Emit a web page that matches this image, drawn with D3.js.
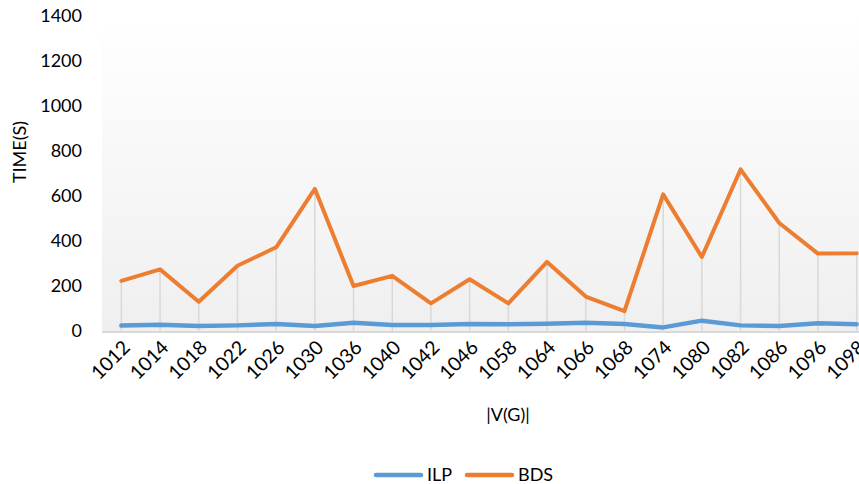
<!DOCTYPE html>
<html>
<head>
<meta charset="utf-8">
<script src="https://cdn.jsdelivr.net/npm/d3@7"></script>
<style>
  html, body { margin: 0; padding: 0; background: #fff; }
  svg { display: block; font-family: Lato, "Open Sans", sans-serif; }
</style>
</head>
<body>
<div id="chart"></div>
<script>
const categories = ['1012','1014','1018','1022','1026','1030','1036','1040','1042','1046',
                    '1058','1064','1066','1068','1074','1080','1082','1086','1096','1098'];
const ilpValues  = [24, 28, 22, 25, 31, 22, 37, 27, 27, 31, 30, 32, 37, 31, 16, 46, 25, 22, 34, 30];
const bdsValues  = [223, 274, 130, 290, 372, 632, 200, 245, 123, 230, 123, 307, 153, 88, 607, 329, 718, 480, 344, 345];
const yTicks     = [0, 200, 400, 600, 800, 1000, 1200, 1400];

const ILP_COLOR = '#5b9bd5';
const BDS_COLOR = '#ed7d31';
const DROP_COLOR = '#d9d9d9';

const width = 859, height = 484;
const plot = { left: 102, right: 876, top: 16, bottom: 331 };

const svg = d3.select('#chart').append('svg')
  .attr('width', width).attr('height', height);

// plot background gradient (white -> light grey)
const grad = svg.append('defs').append('linearGradient')
  .attr('id', 'bg').attr('x1', 0).attr('y1', 0).attr('x2', 0).attr('y2', 1);
grad.append('stop').attr('offset', '0%').attr('stop-color', '#ffffff');
grad.append('stop').attr('offset', '100%').attr('stop-color', '#efefef');

svg.append('rect')
  .attr('x', plot.left).attr('y', plot.top)
  .attr('width', plot.right - plot.left).attr('height', plot.bottom - plot.top)
  .attr('fill', 'url(#bg)');

const x = d3.scaleBand().domain(categories).range([plot.left, plot.right]);
const cx = d => x(d) + x.bandwidth() / 2;
const y = d3.scaleLinear().domain([0, 1400]).range([plot.bottom, plot.top]);

// drop lines from the highest point down to the axis
svg.append('g').selectAll('line')
  .data(categories)
  .join('line')
  .attr('x1', cx).attr('x2', cx)
  .attr('y1', (d, i) => y(Math.max(ilpValues[i], bdsValues[i])))
  .attr('y2', y(0))
  .attr('stroke', DROP_COLOR)
  .attr('stroke-width', 1.5);

// x baseline
svg.append('line')
  .attr('x1', plot.left).attr('x2', plot.right)
  .attr('y1', y(0) + 1).attr('y2', y(0) + 1)
  .attr('stroke', DROP_COLOR).attr('stroke-width', 2);

// y axis labels
svg.append('g').selectAll('text')
  .data(yTicks)
  .join('text')
  .attr('x', 82)
  .attr('y', d => y(d))
  .attr('dy', '0.35em')
  .attr('text-anchor', 'end')
  .attr('font-size', '18px')
  .attr('fill', '#000')
  .text(d => d);

// x axis labels, rotated
svg.append('g').selectAll('text')
  .data(categories)
  .join('text')
  .attr('transform', d => `translate(${cx(d) + 5},${y(0) + 13}) rotate(-45)`)
  .attr('dy', '0.35em')
  .attr('text-anchor', 'end')
  .attr('font-size', '19.5px')
  .attr('fill', '#000')
  .text(d => d);

// axis titles
svg.append('text')
  .attr('transform', 'translate(26,152) rotate(-90)')
  .attr('text-anchor', 'middle')
  .attr('font-size', '18px')
  .text('TIME(S)');

svg.append('text')
  .attr('x', 508).attr('y', 421)
  .attr('text-anchor', 'middle')
  .attr('font-size', '18px')
  .text('|V(G)|');

// series lines
const line = vals => d3.line()
  .x((d, i) => cx(categories[i]))
  .y(d => y(d))(vals);

svg.append('path')
  .attr('d', line(ilpValues))
  .attr('fill', 'none')
  .attr('stroke', ILP_COLOR)
  .attr('stroke-width', 4.5)
  .attr('stroke-linejoin', 'round')
  .attr('stroke-linecap', 'round');

svg.append('path')
  .attr('d', line(bdsValues))
  .attr('fill', 'none')
  .attr('stroke', BDS_COLOR)
  .attr('stroke-width', 4)
  .attr('stroke-linejoin', 'round')
  .attr('stroke-linecap', 'round');

// legend
const legend = [
  { name: 'ILP', color: ILP_COLOR, x: 376 },
  { name: 'BDS', color: BDS_COLOR, x: 467 },
];
const lg = svg.append('g').selectAll('g')
  .data(legend)
  .join('g')
  .attr('transform', d => `translate(${d.x},475)`);
lg.append('line')
  .attr('x1', 0).attr('x2', 45)
  .attr('stroke', d => d.color)
  .attr('stroke-width', 4.5)
  .attr('stroke-linecap', 'round');
lg.append('text')
  .attr('x', 51)
  .attr('dy', '0.35em')
  .attr('font-size', '18px')
  .text(d => d.name);
</script>
</body>
</html>
